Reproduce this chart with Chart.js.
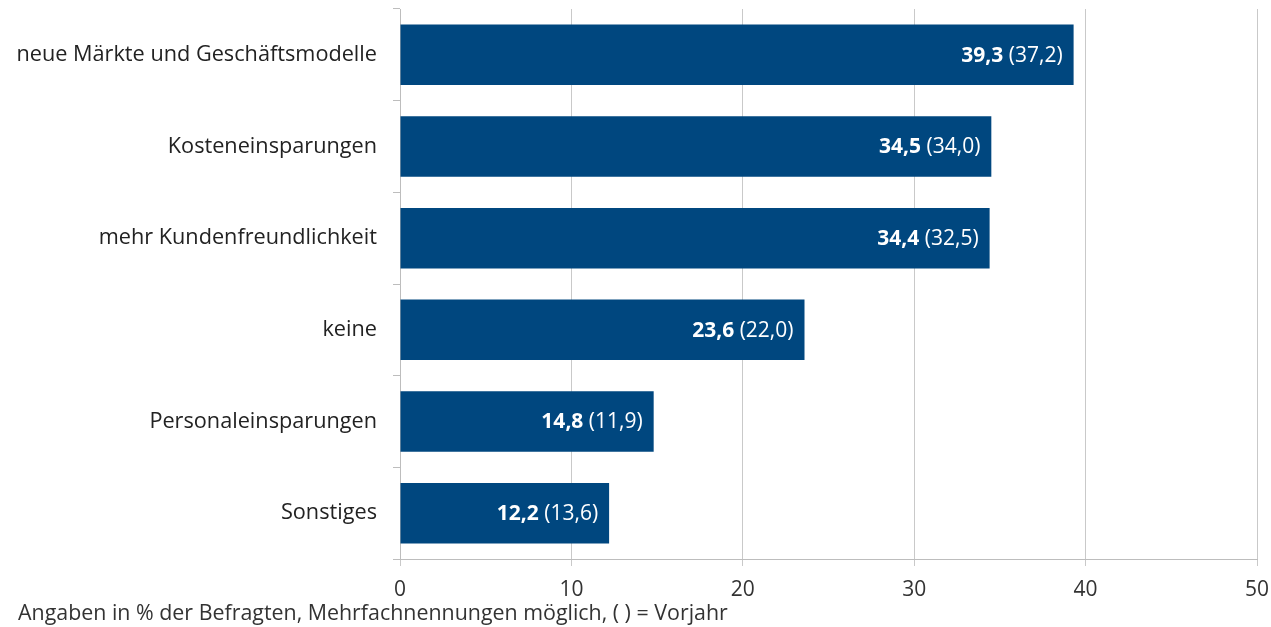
<!DOCTYPE html>
<html>
<head>
<meta charset="utf-8">
<script src="https://cdn.jsdelivr.net/npm/chart.js@4/dist/chart.umd.min.js"></script>
<style>
  html, body { margin: 0; padding: 0; background: #fff; }
  #wrap { width: 1271px; height: 627px; position: relative; }
</style>
</head>
<body>
<div id="wrap"><canvas id="c"></canvas></div>
<script>
const categories = [
  "neue Märkte und Geschäftsmodelle",
  "Kosteneinsparungen",
  "mehr Kundenfreundlichkeit",
  "keine",
  "Personaleinsparungen",
  "Sonstiges"
];
const values = [39.3, 34.5, 34.4, 23.6, 14.8, 12.2];
const previousYear = [37.2, 34.0, 32.5, 22.0, 11.9, 13.6];
const xMin = 0, xMax = 50, xStep = 10;
const footnote = "Angaben in % der Befragten, Mehrfachnennungen möglich, ( ) = Vorjahr";

const FONT = "'Open Sans', 'Noto Sans', sans-serif";
const FS = 21;
const fmt = v => v.toFixed(1).replace('.', ',');

const labelPlugin = {
  id: 'barLabels',
  afterDatasetsDraw(chart) {
    const ctx = chart.ctx;
    const meta = chart.getDatasetMeta(0);
    ctx.save();
    ctx.fillStyle = '#ffffff';
    ctx.textBaseline = 'middle';
    meta.data.forEach((bar, i) => {
      const bold = fmt(values[i]);
      const normal = ' (' + fmt(previousYear[i]) + ')';
      ctx.font = FS + 'px ' + FONT;
      const wN = ctx.measureText(normal).width;
      ctx.font = 'bold ' + FS + 'px ' + FONT;
      const wB = ctx.measureText(bold).width;
      const right = bar.x - 11;
      const y = bar.y + 1;
      ctx.textAlign = 'left';
      ctx.font = 'bold ' + FS + 'px ' + FONT;
      ctx.fillText(bold, right - wN - wB, y);
      ctx.font = FS + 'px ' + FONT;
      ctx.fillText(normal, right - wN, y);
    });
    ctx.restore();
  }
};

const footPlugin = {
  id: 'footnote',
  afterDraw(chart) {
    const ctx = chart.ctx;
    ctx.save();
    ctx.font = '21.4px ' + FONT;
    ctx.fillStyle = '#333333';
    ctx.textAlign = 'left';
    ctx.textBaseline = 'middle';
    ctx.fillText(footnote, 18, 614);
    ctx.restore();
  }
};

new Chart(document.getElementById('c'), {
  type: 'bar',
  data: {
    labels: categories,
    datasets: [{
      data: values,
      backgroundColor: '#00477f',
      borderWidth: 0,
      barPercentage: 0.66,
      categoryPercentage: 1.0
    }]
  },
  options: {
    indexAxis: 'y',
    responsive: true,
    maintainAspectRatio: false,
    animation: false,
    layout: { padding: { top: 9, right: 14, left: 0, bottom: 0 } },
    plugins: {
      legend: { display: false },
      tooltip: { enabled: false }
    },
    scales: {
      x: {
        min: xMin, max: xMax,
        ticks: { stepSize: xStep, color: '#333333', padding: 11, font: { family: FONT, size: FS } },
        grid: { color: '#c9c9c9', lineWidth: 1, tickLength: 7, drawTicks: true },
        border: { color: '#bdbdbd', width: 1 },
        afterFit(scale) { scale.height = 68; scale.paddingLeft = 0; scale.paddingRight = 0; }
      },
      y: {
        ticks: { color: '#222222', padding: 16, font: { family: FONT, size: 21.7 } },
        grid: { drawOnChartArea: false, drawTicks: true, tickLength: 7, color: '#bdbdbd', offset: true },
        border: { color: '#bdbdbd', width: 1 },
        afterFit(scale) { scale.width = 400; scale.paddingTop = 0; scale.paddingBottom = 0; }
      }
    }
  },
  plugins: [labelPlugin, footPlugin]
});
</script>
</body>
</html>
